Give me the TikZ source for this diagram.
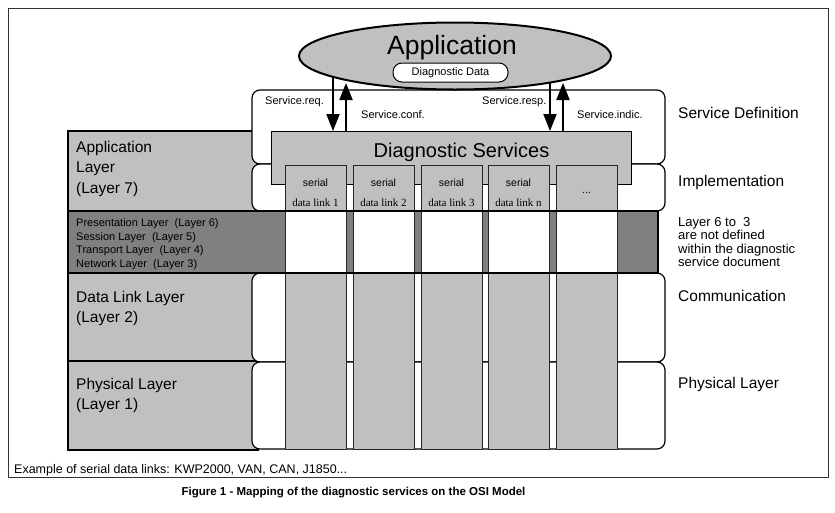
\documentclass[tikz,border=0pt]{standalone}
\usepackage{fontspec}
\setmainfont{Liberation Sans}
\newfontfamily\seriffont{Liberation Serif}
\usetikzlibrary{arrows.meta,shapes.geometric}
\definecolor{lgray}{HTML}{C0C0C0}
\definecolor{dgray}{HTML}{808080}
\tikzset{
  osibox/.style={draw=black, line width=2pt, fill=lgray},
  bandbox/.style={draw=black, line width=2pt, fill=dgray},
  svcbox/.style={draw=black, line width=1.2pt, fill=white, rounded corners=8pt},
  colbox/.style={draw=black!85, line width=0.9pt, fill=lgray},
  holebox/.style={draw=black!85, line width=0.9pt, fill=white},
  lbl/.style={anchor=base west, inner sep=0pt, font=\fontsize{15.5}{18}\selectfont},
  smalllbl/.style={anchor=base west, inner sep=0pt, font=\fontsize{11}{13}\selectfont},
  midlbl/.style={anchor=base west, inner sep=0pt, font=\fontsize{13}{15}\selectfont},
  svclbl/.style={anchor=base west, inner sep=0pt, font=\fontsize{11}{13}\selectfont},
  arr/.style={line width=2pt, -{Triangle[width=13pt,length=17pt]}},
}
\begin{document}
\begin{tikzpicture}[x=1pt,y=-1pt]
\useasboundingbox (0,0) rectangle (835,512);
% outer frame
\draw[line width=1pt, draw=black!80] (8,8) rectangle (828,477);
% OSI layer boxes
\draw[osibox] (68,131) rectangle (258,211);
\draw[osibox] (68,273) rectangle (258,361);
\draw[osibox] (68,361) rectangle (258,450);
\draw[bandbox] (68,211) rectangle (658,273);
% service boxes
\draw[svcbox] (252,90) rectangle (665,164);
\draw[svcbox] (252,164) rectangle (665,211);
\draw[svcbox] (252,273) rectangle (665,362);
\draw[svcbox] (252,362) rectangle (665,449);
% diagnostic services
\node[draw=black, fill=lgray, line width=1pt, minimum width=360pt, minimum height=53pt,
      anchor=north west, inner sep=0pt] (ds) at (271,131) {};
\node[anchor=base, inner sep=0pt, font=\fontsize{20}{24}\selectfont] (dstxt) at (461.5,157) {Diagnostic Services};
% columns
\foreach \x/\t [count=\i] in {285/1,353/2,421/3,488/n,556/x}{
  \draw[colbox] (\x,165) rectangle ++(61,284);
  \draw[holebox] (\x,211) rectangle ++(61,62);
}
\foreach \x/\t [count=\i] in {285/1,353/2,421/3,488/n}{
  \node[anchor=base, inner sep=0pt, font=\fontsize{10.5}{12}\selectfont] (ser\i) at (\x+30.5,186) {serial};
  \node[anchor=base, inner sep=0pt, font=\seriffont\fontsize{11}{13}\selectfont] (dl\i) at (\x+30.5,206) {data link \t};
}
\node[anchor=base, inner sep=0pt, font=\fontsize{10.5}{12}\selectfont] (dots) at (586.5,193) {...};
\draw[line width=2pt] (68,211) rectangle (658,273);
% application ellipse
\node[ellipse, draw=black, line width=2pt, fill=lgray, minimum width=312pt, minimum height=67pt, inner sep=0pt] (app) at (455,56) {};
\node[anchor=base, inner sep=0pt, font=\fontsize{26.5}{30}\selectfont] (apptxt) at (452,54) {Application};
\node[draw=black, line width=1pt, fill=white, rounded corners=9pt, minimum width=115pt, minimum height=19pt,
      inner sep=0pt, font=\fontsize{11}{13}\selectfont] (dd) at (450.5,72.5) {Diagnostic Data};
% arrows
\coordinate (reqA) at (333,77);
\coordinate (confA) at (346,83);
\coordinate (respA) at (550,83);
\coordinate (indA) at (563,83);
\draw[arr] (reqA) -- (reqA |- ds.north);
\draw[arr] (confA |- ds.north) -- (confA);
\draw[arr] (respA) -- (respA |- ds.north);
\draw[arr] (indA |- ds.north) -- (indA);
\node[svclbl] (sreq) at (265,104) {Service.req.};
\node[svclbl] (sconf) at (361,118) {Service.conf.};
\node[svclbl] (sresp) at (482,104) {Service.resp.};
\node[svclbl] (sind) at (577,118) {Service.indic.};
% left labels
\node[lbl] (l7a) at (76,152) {Application};
\node[lbl] (l7b) at (76,172.5) {Layer};
\node[lbl] (l7c) at (76,193) {(Layer 7)};
\node[smalllbl] (l6) at (76,226) {Presentation Layer\ \ (Layer 6)};
\node[smalllbl] (l5) at (76,240) {Session Layer\ \ (Layer 5)};
\node[smalllbl] (l4) at (76,253.5) {Transport Layer\ \ (Layer 4)};
\node[smalllbl] (l3) at (76,267) {Network Layer\ \ (Layer 3)};
\node[lbl] (l2a) at (76,302) {Data Link Layer};
\node[lbl] (l2b) at (76,322.5) {(Layer 2)};
\node[lbl] (l1a) at (76,389) {Physical Layer};
\node[lbl] (l1b) at (76,409.5) {(Layer 1)};
% right labels
\node[lbl] (rsd) at (678,118) {Service Definition};
\node[lbl] (rim) at (678,186) {Implementation};
\node[midlbl] (rn1) at (678,226) {Layer 6 to\ \ 3};
\node[midlbl] (rn2) at (678,239.5) {are not defined};
\node[midlbl] (rn3) at (678,253) {within the diagnostic};
\node[midlbl] (rn4) at (678,266.5) {service document};
\node[lbl] (rco) at (678,301) {Communication};
\node[lbl] (rph) at (678,388) {Physical Layer};
% bottom
\node[anchor=base west, inner sep=0pt, font=\fontsize{12.5}{15}\selectfont] (ex) at (14,473) {Example of serial data links: KWP2000, VAN, CAN, J1850...};
\node[anchor=base, inner sep=0pt, font=\bfseries\fontsize{11.5}{14}\selectfont] (cap) at (353.5,495) {Figure 1 - Mapping of the diagnostic services on the OSI Model};
\end{tikzpicture}
\end{document}
